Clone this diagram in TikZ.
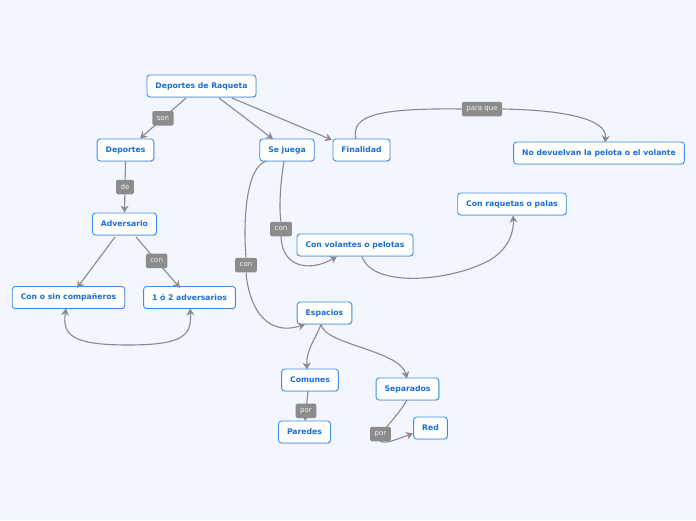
\documentclass[tikz,border=0pt]{standalone}
\usepackage{fontspec}
\setmainfont{DejaVu Sans}
\usetikzlibrary{arrows.meta,shadows}
\definecolor{bgc}{HTML}{F3F6FE}
\definecolor{bord}{HTML}{3C8EE8}
\definecolor{txt}{HTML}{1A6ED6}
\definecolor{linec}{HTML}{8A8A8E}
\definecolor{labc}{HTML}{8C8C8C}
\tikzset{
  topic/.style={draw=bord, line width=0.9pt, fill=white, rounded corners=3pt,
    text=txt, font=\fontsize{7.7}{9}\selectfont\bfseries, inner xsep=8.5pt,
    minimum height=22pt, drop shadow={shadow xshift=0.6pt, shadow yshift=-0.8pt, opacity=0.25}},
  lab/.style={fill=labc, rounded corners=1.5pt, text=white!95!black,
    font=\fontsize{7}{8}\selectfont, inner xsep=4.5pt, inner ysep=2pt, minimum height=14.5pt},
  conn/.style={draw=linec, line width=1.1pt, -{Stealth[length=7pt,width=8pt]}},
  conn2/.style={draw=linec, line width=1.1pt, {Stealth[length=7pt,width=8pt]}-{Stealth[length=7pt,width=8pt]}},
}
\begin{document}
\begin{tikzpicture}[x=1pt,y=-1pt]
\fill[bgc] (0,0) rectangle (696,520);
\useasboundingbox (0,0) rectangle (696,520);

\node[topic] (raq) at (201.5,86) {Deportes de Raqueta};
\node[topic] (dep) at (125.5,150) {Deportes};
\node[topic] (seju) at (287,150) {Se juega};
\node[topic] (fin) at (361.5,150) {Finalidad};
\node[topic] (nodev) at (599,153) {No devuelvan la pelota o el volante};
\node[topic] (raqp) at (512,204) {Con raquetas o palas};
\node[topic] (adv) at (124.5,224) {Adversario};
\node[topic] (vol) at (355,245) {Con volantes o pelotas};
\node[topic] (comp) at (68.5,297.5) {Con o sin compañeros};
\node[topic] (adv2) at (189.5,297.5) {1 ó 2 adversarios};
\node[topic] (esp) at (324.5,313) {Espacios};
\node[topic] (com) at (310,380) {Comunes};
\node[topic] (sep) at (407.5,389) {Separados};
\node[topic] (par) at (304.5,432) {Paredes};
\node[topic] (red) at (430.5,428) {Red};

% coordinates for curve ends
\coordinate (raqA) at (186,98);
\coordinate (raqB) at (219,98);
\coordinate (raqC) at (232,98);
\coordinate (depT) at (140,138.5);
\coordinate (sejuT) at (273,139);
\coordinate (finT) at (332,140);

\draw[conn] (raqA) -- node[lab, pos=0.5] (l1) {son} (depT);
\draw[conn] (raqB) -- (sejuT);
\draw[conn] (raqC) -- (finT);

\draw[conn] (dep.south) -- node[lab] (l2) {de} (adv.north);

\coordinate (advA) at (115,237);
\coordinate (advB) at (136,237);
\coordinate (compT) at (77,288);
\coordinate (adv2T) at (180,288);
\draw[conn] (advA) -- (compT);
\draw[conn] (advB) -- node[lab, pos=0.47] (l3) {con} (adv2T);

\coordinate (compB) at (66,308.5);
\coordinate (adv2B) at (190,308.5);
\draw[conn2] (compB) .. controls (62,335) and (72,345) .. (128,345)
  .. controls (184,345) and (192,335) .. (adv2B);

% Finalidad -> No devuelvan
\coordinate (finTop) at (356,139);
\coordinate (nodevT) at (605,142.5);
\node[lab] (l4) at (482,109) {para que};
\draw[conn] (finTop) .. controls (350,115) and (380,108) .. (l4.west) (l4.east)
  .. controls (560,110) and (608,118) .. (nodevT);

% Se juega -> Con volantes
\coordinate (sejuB1) at (284,161);
\coordinate (volB) at (337,256.5);
\node[lab] (l5) at (281,229) {con};
\draw[conn] (sejuB1) .. controls (280,185) and (279,210) .. (l5.north) (l5.south)
  .. controls (282,268) and (310,272) .. (volB);

% Se juega -> Espacios
\coordinate (sejuB2) at (266,161);
\coordinate (espL) at (305,324.5);
\node[lab] (l6) at (246,265) {con};
\draw[conn] (sejuB2) .. controls (246,168) and (243,220) .. (l6.north) (l6.south)
  .. controls (248,300) and (262,338) .. (espL);

% Con volantes -> Con raquetas
\coordinate (volB2) at (362,256.5);
\coordinate (raqpB) at (513,215.5);
\draw[conn] (volB2) .. controls (372,288) and (450,282) .. (490,260)
  .. controls (510,248) and (514,230) .. (raqpB);

% Espacios -> Comunes / Separados
\coordinate (espB) at (321,324.5);
\coordinate (comT) at (307,369.5);
\coordinate (sepT) at (407,378.5);
\draw[conn] (espB) .. controls (315,340) and (306,350) .. (comT);
\draw[conn] (espB) .. controls (325,345) and (400,350) .. (sepT);

% Comunes -> Paredes
\coordinate (comB) at (308,391);
\coordinate (parT) at (305,421);
\draw[conn] (comB) -- node[lab, pos=0.66] (l7) {por} (parT);

% Separados -> Red
\coordinate (sepB) at (407,400);
\coordinate (redL) at (413,433.5);
\coordinate (l8p) at (380.5,434);
\draw[conn] (sepB) .. controls (400,412) and (392,420) .. (386,428)
  (l8p) ++(0,7) .. controls (384,445) and (400,438) .. (redL);
\node[lab] (l8) at (l8p) {por};
\end{tikzpicture}
\end{document}
